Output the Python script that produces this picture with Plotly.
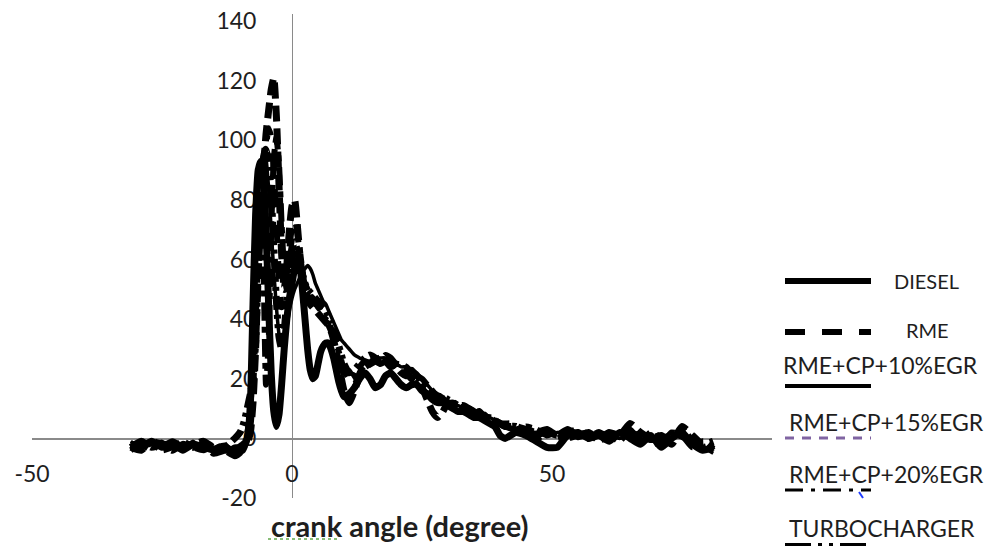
import plotly.graph_objects as go

# ---------------- data ----------------
crank_angle = [
    -31, -29, -27, -25, -23, -21, -19, -17, -15, -13, -11,
    -10, -9.5, -9, -8.5, -8, -7.5, -7, -6.5, -6, -5.5, -5, -4.5, -4, -3.5, -3, -2.5, -2, -1.5, -1, -0.5,
    0, 0.5, 1, 1.5, 2, 2.5, 3, 3.5, 4, 4.5, 5, 5.5, 6, 6.5, 7, 7.5, 8, 8.5, 9, 9.5, 10,
    11, 12, 13, 14, 15, 16, 17, 18, 19, 20, 21, 22, 23, 24, 25, 26, 27, 28, 29, 30,
    31, 32, 33, 34, 35, 36, 37, 38, 39, 40, 41,
    43, 45, 47, 49, 51, 53, 55, 57, 59, 61, 63, 65, 67, 69, 71, 73, 75, 77, 79, 81,
]

diesel = [
    -2, -3, -1, -3, -2, -4, -2, -3, -4, -3, -5,
    -4, -3, -2, 1, 12, 45, 75, 90, 93, 88, 70, 45, 22, 9, 4, 8, 18, 30, 40, 47,
    52, 57, 60, 58, 50, 40, 30, 23, 20, 21, 25, 29, 31, 32, 32, 30, 27, 23, 19, 16, 14,
    15, 17, 20, 22, 20, 17, 18, 21, 22, 20, 18, 17, 18, 18, 16, 15, 13, 12, 12, 11,
    10, 9, 9, 8, 7, 7, 6, 5, 4, 1, 0,
    2, 1, -1, -3, -3, 1, 2, 0, 1, -1, 2, 0, -2, 1, -3, 0, 2, -2, -4, -3,
]

rme = [
    -3, -1, -3, -2, -4, -2, -3, -2, -5, -4, -4,
    -3, -4, -2, -1, 2, 12, 30, 55, 75, 90, 102, 110, 117, 121, 108, 85, 62, 50, 58, 70,
    78, 80, 72, 62, 55, 50, 47, 45, 44, 43, 42, 41, 40, 39, 38, 36, 33, 29, 25, 20, 16,
    12, 16, 21, 24, 25, 26, 27, 26, 24, 25, 24, 22, 20, 19, 17, 13, 9, 7, 9, 12,
    11, 10, 9, 10, 8, 9, 7, 6, 6, 5, 4,
    4, 3, 2, 3, 1, 3, 1, 2, 0, 2, 1, 5, 2, 0, 1, -1, 4, 1, -2, -1,
]

rme_cp_10egr = [
    -1, -3, -2, -1, -3, -3, -1, -4, -3, -2, -4,
    -2, -2, -1, 2, 8, 30, 58, 80, 92, 97, 94, 84, 70, 56, 44, 35, 31, 32, 37, 43,
    47, 50, 52, 54, 56, 57, 58, 57, 55, 52, 50, 48, 46, 45, 43, 41, 39, 37, 35, 33, 32,
    30, 28, 27, 26, 26, 27, 27, 27, 26, 25, 24, 24, 23, 22, 20, 18, 16, 15, 14, 12,
    11, 11, 10, 9, 9, 8, 7, 7, 6, 5, 4,
    3, 2, 2, 1, 2, 2, 0, 1, 2, 1, 0, 1, 0, -1, 0, 2, 0, -1, -3, -5,
]

rme_cp_15egr = [
    -2, -2, -4, -3, -1, -3, -4, -2, -3, -5, -3,
    -3, -2, -1, 1, 4, 15, 38, 62, 78, 90, 98, 104, 101, 90, 72, 54, 44, 46, 55, 64,
    71, 74, 69, 62, 56, 52, 49, 47, 46, 45, 45, 44, 42, 40, 38, 36, 34, 31, 28, 24, 21,
    18, 18, 22, 25, 27, 26, 25, 26, 27, 26, 24, 23, 23, 21, 19, 17, 15, 14, 13, 14,
    12, 11, 10, 10, 9, 8, 8, 7, 6, 5, 5,
    5, 3, 1, 2, 0, 2, 3, 1, 1, 0, 3, 2, 1, -2, -1, 1, -1, 0, -5, -2,
]

rme_cp_20egr = [
    -4, -2, -2, -4, -3, -1, -3, -4, -2, -4, -6,
    -5, -3, -1, 3, 10, 28, 62, 86, 90, 60, 18, 32, 70, 94, 101, 92, 72, 56, 50, 54,
    60, 64, 63, 59, 55, 52, 50, 48, 47, 46, 44, 43, 41, 40, 39, 37, 35, 32, 29, 26, 23,
    20, 21, 24, 26, 25, 24, 26, 28, 27, 25, 25, 24, 22, 21, 20, 18, 16, 14, 13, 12,
    12, 11, 10, 9, 9, 8, 8, 6, 5, 5, 4,
    3, 4, 3, 1, 2, 0, 1, 2, -1, 1, -1, 3, -1, 2, -2, 2, 1, -3, -1, -4,
]

turbocharger = [
    -3, -4, -1, -2, -2, -3, -2, -1, -3, -3, 0,
    2, 4, 7, 11, 15, 20, 32, 58, 80, 93, 97, 93, 82, 64, 46, 34, 30, 36, 47, 58,
    64, 66, 63, 59, 55, 52, 50, 49, 48, 47, 46, 45, 44, 43, 41, 39, 37, 34, 31, 28, 25,
    22, 23, 25, 27, 28, 27, 26, 26, 26, 24, 22, 21, 21, 20, 18, 16, 15, 14, 14, 13,
    12, 11, 11, 10, 9, 8, 7, 7, 6, 5, 4,
    4, 2, 0, 2, 1, 1, 2, 0, 2, 0, 1, 2, 0, 0, 1, -2, 3, -1, -3, -2,
]

series_names = ["DIESEL", "RME", "RME+CP+10%EGR", "RME+CP+15%EGR", "RME+CP+20%EGR", "TURBOCHARGER"]
series_values = [diesel, rme, rme_cp_10egr, rme_cp_15egr, rme_cp_20egr, turbocharger]

x_ticks = [-50, 0, 50]
y_ticks = [-20, 0, 20, 40, 60, 80, 100, 120, 140]
x_title = "crank angle (degree)"

# ---------------- styles ----------------
W, H = 989, 546
FONT = "Lato"
TXT = "#1e1e1e"

trace_styles = [
    dict(width=7, dash="solid"),
    dict(width=7, dash="16px,7px"),
    dict(width=3.5, dash="solid"),
    dict(width=6, dash="dash"),
    dict(width=6, dash="dashdot"),
    dict(width=7, dash="14px,5px,4px,5px,4px,5px"),
]

def fx(px):
    return px / W

def fy(py):
    return 1 - py / H

x_range = [-50, 92.3]
y_range = [-20, 142.4]
x_dom = [fx(32), fx(772)]
y_dom = [fy(498), fy(14)]

fig = go.Figure()
for name, vals, st in zip(series_names, series_values, trace_styles):
    fig.add_trace(go.Scatter(
        x=crank_angle, y=vals, mode="lines", name=name, showlegend=False,
        line=dict(color="#000000", shape="spline", smoothing=0.5, **st),
        hoverinfo="skip",
    ))

x_axis_pos = y_dom[0] + (0 - y_range[0]) / (y_range[1] - y_range[0]) * (y_dom[1] - y_dom[0])
y_axis_pos = x_dom[0] + (0 - x_range[0]) / (x_range[1] - x_range[0]) * (x_dom[1] - x_dom[0])

fig.update_layout(
    template="none",
    width=W, height=H,
    margin=dict(l=0, r=0, t=0, b=0, pad=0),
    paper_bgcolor="white", plot_bgcolor="white",
    font=dict(family=FONT, color=TXT),
    showlegend=False,
    xaxis=dict(
        domain=x_dom, range=x_range, anchor="free", position=x_axis_pos, automargin=False,
        showgrid=False, zeroline=False, showline=True, linecolor="#8a8a8a", linewidth=1.3,
        tickmode="array", tickvals=x_ticks, ticktext=[str(v) for v in x_ticks],
        ticks="", ticklabelstandoff=15,
        tickfont=dict(family=FONT, size=23, color=TXT), layer="below traces",
    ),
    yaxis=dict(
        domain=y_dom, range=y_range, anchor="free", position=y_axis_pos, automargin=False,
        showgrid=False, zeroline=False, showline=True, linecolor="#8a8a8a", linewidth=1.3,
        tickmode="array", tickvals=y_ticks, ticktext=[str(v) for v in y_ticks],
        ticks="", ticklabelstandoff=31,
        tickfont=dict(family=FONT, size=23, color=TXT), layer="below traces",
    ),
)

# axis title
fig.add_annotation(
    xref="paper", yref="paper", x=fx(399), y=fy(525), xanchor="center", yanchor="middle",
    text="<b>" + x_title + "</b>", showarrow=False, font=dict(family=FONT, size=29, color=TXT),
)
fig.add_shape(type="line", xref="paper", yref="paper", x0=fx(268), x1=fx(337), y0=fy(539), y1=fy(539),
              line=dict(color="#62a84a", width=1.5, dash="dot"))

# custom legend (text above / beside line sample, as in the picture)
legend_text_pos = [(893, 281, 20), (905, 330, 20), (782, 365, 23), (788, 422, 23), (788, 474, 23), (788, 528, 23)]
legend_line_y = [281, 332, 386, 438, 490, 545]
legend_line_style = [
    dict(color="#000000", width=6, dash="solid"),
    dict(color="#000000", width=6, dash="20px,17px"),
    dict(color="#000000", width=4, dash="solid"),
    dict(color="#8064a2", width=3, dash="9px,8px"),
    dict(color="#000000", width=3, dash="18px,8px,4px,8px"),
    dict(color="#000000", width=4, dash="26px,7px,4px,7px,4px,7px"),
]
for name, (tx, ty, fs), ly, ls in zip(series_names, legend_text_pos, legend_line_y, legend_line_style):
    fig.add_annotation(xref="paper", yref="paper", x=fx(tx), y=fy(ty), xanchor="left", yanchor="middle",
                       text=name, showarrow=False, borderpad=0, font=dict(family=FONT, size=fs, color=TXT))
    fig.add_shape(type="line", xref="paper", yref="paper", x0=fx(785), x1=fx(871), y0=fy(ly), y1=fy(ly),
                  line=ls)
fig.add_shape(type="line", xref="paper", yref="paper", x0=fx(859), x1=fx(863), y0=fy(492), y1=fy(498),
              line=dict(color="#1f3cff", width=2))

fig.write_html(
    "out.html",
    config={"displayModeBar": False, "staticPlot": True},
    post_script="document.body.style.margin='0px';document.body.style.overflow='hidden';",
)
